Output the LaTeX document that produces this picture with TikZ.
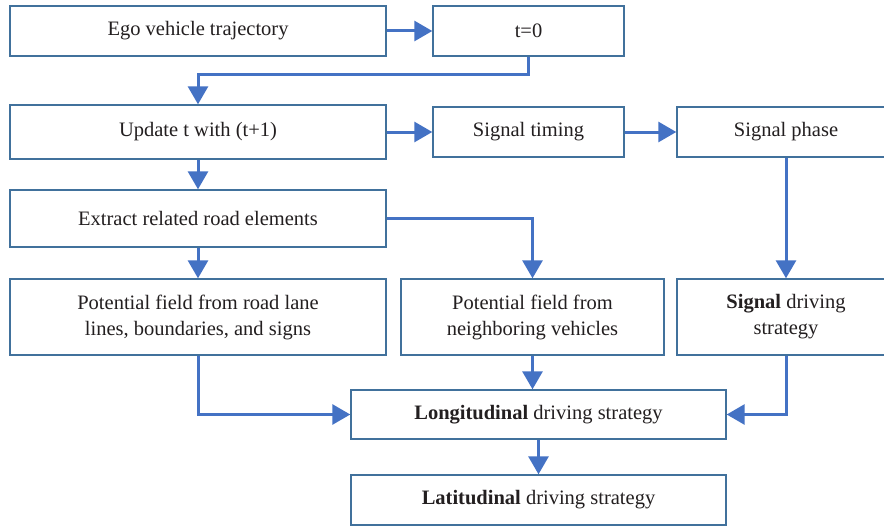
\documentclass[tikz,border=0pt]{standalone}
\usepackage{fontspec}
\setmainfont{Liberation Serif}
\usetikzlibrary{arrows.meta}
\definecolor{boxline}{HTML}{41719C}
\definecolor{flow}{HTML}{4472C4}
\definecolor{ink}{HTML}{231F20}
\tikzset{
  box/.style={draw=boxline, line width=1.4pt, fill=white, inner sep=2pt,
    align=center, text=ink, font=\fontsize{20.5}{26}\selectfont},
  flowarrow/.style={draw=flow, line width=3pt,
    -{Triangle[length=18pt,width=20pt]}},
}
\begin{document}
\begin{tikzpicture}[x=1pt,y=-1pt]
  \useasboundingbox (0,0) rectangle (884,527);
  % first row
  \node[box, minimum width=376pt, minimum height=50pt] (ego) at (198,31) {Ego vehicle trajectory};
  \node[box, minimum width=191pt, minimum height=50pt] (t0) at (528.5,31) {t=0};
  % second row
  \node[box, minimum width=376pt, minimum height=54pt] (upd) at (198,132) {Update t with (t+1)};
  \node[box, minimum width=191pt, minimum height=50pt] (timing) at (528.5,132) {Signal timing};
  \node[box, minimum width=218pt, minimum height=50pt] (phase) at (786,132) {Signal phase};
  % third row
  \node[box, minimum width=376pt, minimum height=57pt] (extract) at (198,218.5) {Extract related road elements};
  % fourth row
  \node[box, minimum width=376pt, minimum height=76pt] (road) at (198,317) {Potential field from road lane\\lines, boundaries, and signs};
  \node[box, minimum width=263pt, minimum height=76pt] (neigh) at (532.5,317) {Potential field from\\neighboring vehicles};
  \node[box, minimum width=218pt, minimum height=76pt] (sig) at (786,317) {\textbf{Signal} driving\\strategy};
  % strategies
  \node[box, minimum width=375pt, minimum height=49pt] (long) at (538.5,414.5) {\textbf{Longitudinal} driving strategy};
  \node[box, minimum width=375pt, minimum height=50pt] (lat) at (538.5,500) {\textbf{Latitudinal} driving strategy};

  % connectors
  \draw[flowarrow] (ego) -- (t0);
  \draw[flowarrow] (t0.south) -- ++(0,18) -| (upd.north);
  \draw[flowarrow] (upd) -- (timing);
  \draw[flowarrow] (timing) -- (phase);
  \draw[flowarrow] (upd) -- (extract);
  \draw[flowarrow] (phase) -- (sig);
  \draw[flowarrow] (extract) -- (road);
  \draw[flowarrow] (extract.east) -| (neigh.north);
  \draw[flowarrow] (road.south) |- (long.west);
  \draw[flowarrow] (neigh.south) -- (neigh.south |- long.north);
  \draw[flowarrow] (sig.south) |- (long.east);
  \draw[flowarrow] (long) -- (lat);
\end{tikzpicture}
\end{document}
